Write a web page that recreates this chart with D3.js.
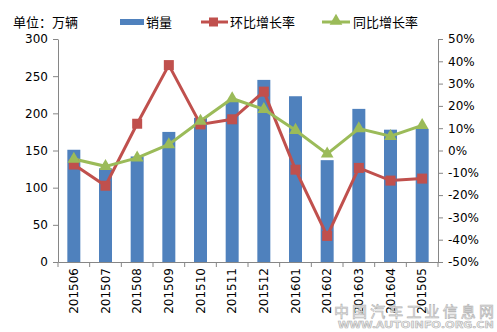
<!DOCTYPE html>
<html><head><meta charset="utf-8">
<script src="https://cdn.jsdelivr.net/npm/d3@7"></script>
<style>body{margin:0;background:#fff}text{font-family:"Noto Sans CJK SC","DejaVu Sans",sans-serif}</style>
</head><body><svg id="c" width="497" height="332"></svg>
<script>
const categories=["201506","201507","201508","201509","201510","201511","201512","201601","201602","201603","201604","201505"];
const sales=[151,126,142,175,194,216,245,223,137,206,178,179];
const mom=[-6.3,-15.8,12,38.3,11.7,14,26.4,-8.6,-38.3,-7.8,-13.5,-12.6];
const yoy=[-3.8,-7.1,-3.3,2.7,13.2,23.3,18.5,9.1,-1.5,9.8,6.4,11.3];
const leftTicks=[0,50,100,150,200,250,300];
const rightTicks=[-50,-40,-30,-20,-10,0,10,20,30,40,50];
const seriesNames=["销量","环比增长率","同比增长率"];
const unitLabel="单位：万辆";

const svg=d3.select("#c");
const L=58,R=438,T=39,B=262;
const x=d3.scaleBand().domain(categories).range([L,R]).paddingInner(0.59).paddingOuter(0.295);
const xb=d3.scaleBand().domain(categories).range([L,R]);
const yL=d3.scaleLinear().domain([0,300]).range([B,T]);
const yR=d3.scaleLinear().domain([-50,50]).range([B,T]);
const blue="#4F81BD",red="#C0504D",green="#9BBB59",axc="#868686";

svg.selectAll("rect.bar").data(sales).enter().append("rect")
 .attr("x",(d,i)=>x(categories[i])).attr("width",x.bandwidth())
 .attr("y",d=>yL(d)).attr("height",d=>B-yL(d)).attr("fill",blue);

const gl=svg.append("g").attr("transform",`translate(${L},0)`).call(d3.axisLeft(yL).tickValues(leftTicks).tickSize(5).tickSizeOuter(0).tickPadding(5));
const gr=svg.append("g").attr("transform",`translate(${R},0)`).call(d3.axisRight(yR).tickValues(rightTicks).tickSize(5).tickSizeOuter(0).tickPadding(5).tickFormat(d=>d+"%"));
const gx=svg.append("g").attr("transform",`translate(0,${B})`).call(d3.axisBottom(xb).tickSize(0).tickPadding(0));
[gl,gr,gx].forEach(g=>{g.selectAll("path,line").attr("stroke",axc);g.selectAll("text").attr("fill","#000").style("font-size","12px").style("font-family","'DejaVu Sans',sans-serif");});
gx.selectAll(".tick text").attr("transform","rotate(-90)").attr("text-anchor","end").attr("dy","0.35em").attr("x",-6).attr("y",0);
svg.append("g").selectAll("line").data(d3.range(categories.length+1)).enter().append("line")
 .attr("x1",i=>L+i*xb.step()).attr("x2",i=>L+i*xb.step()).attr("y1",B).attr("y2",B+5).attr("stroke",axc);

const cx=c=>xb(c)+xb.bandwidth()/2;
const line=d3.line().x((d,i)=>cx(categories[i])).y(d=>yR(d));
svg.append("path").datum(mom).attr("d",line).attr("fill","none").attr("stroke",red).attr("stroke-width",3);
svg.append("path").datum(yoy).attr("d",line).attr("fill","none").attr("stroke",green).attr("stroke-width",3);
svg.selectAll("rect.m").data(mom).enter().append("rect")
 .attr("x",(d,i)=>cx(categories[i])-5).attr("y",d=>yR(d)-5).attr("width",10).attr("height",10).attr("fill",red);
const tri=d3.symbol().type(d3.symbolTriangle).size(70);
svg.selectAll("path.t").data(yoy).enter().append("path").attr("d",tri)
 .attr("transform",(d,i)=>`translate(${cx(categories[i])},${yR(d)})`).attr("fill",green);

svg.append("text").attr("x",13).attr("y",27).text(unitLabel).style("font-size","13px");
svg.append("rect").attr("x",120).attr("y",19).attr("width",24).attr("height",6).attr("fill",blue);
svg.append("text").attr("x",146).attr("y",27).text(seriesNames[0]).style("font-size","13px");
svg.append("line").attr("x1",201).attr("x2",228).attr("y1",22).attr("y2",22).attr("stroke",red).attr("stroke-width",3);
svg.append("rect").attr("x",209).attr("y",17.5).attr("width",9).attr("height",9).attr("fill",red);
svg.append("text").attr("x",230).attr("y",27).text(seriesNames[1]).style("font-size","13px");
svg.append("line").attr("x1",322).attr("x2",350).attr("y1",22).attr("y2",22).attr("stroke",green).attr("stroke-width",3);
svg.append("path").attr("d",tri).attr("transform","translate(336,21)").attr("fill",green);
svg.append("text").attr("x",353).attr("y",27).text(seriesNames[2]).style("font-size","13px");

svg.append("text").attr("x",334).attr("y",317).text("中国汽车工业信息网")
 .attr("textLength",160).attr("lengthAdjust","spacing")
 .style("font-size","15px").attr("fill","#f4f4f4").attr("stroke","#b0b0b0").attr("stroke-width",0.6);
svg.append("text").attr("x",338).attr("y",328).text("WWW.AUTOINFO.ORG.CN")
 .attr("textLength",156).attr("lengthAdjust","spacingAndGlyphs")
 .style("font-size","9px").style("font-weight","bold").attr("fill","#f4f4f4").attr("stroke","#b0b0b0").attr("stroke-width",0.5);
</script></body></html>
